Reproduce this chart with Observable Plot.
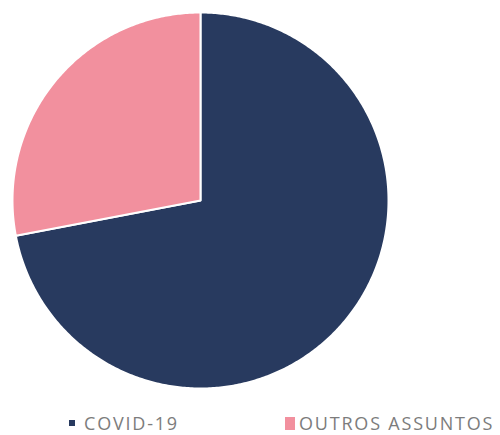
<!DOCTYPE html>
<html>
<head>
<meta charset="utf-8">
<script src="https://cdn.jsdelivr.net/npm/d3@7"></script>
<script src="https://cdn.jsdelivr.net/npm/@observablehq/plot@0.6"></script>
<style>
  html, body { margin: 0; padding: 0; background: #fff; }
  #wrap { position: relative; width: 500px; height: 435px; overflow: hidden; }
  #legend { position: absolute; left: 0; top: 411px; width: 500px; height: 24px;
            font-family: "Open Sans", "Liberation Sans", sans-serif; font-size: 18px;
            letter-spacing: 1.8px; color: #7c7c7c; }
  .item { position: absolute; top: 0; display: flex; align-items: center; height: 24px; white-space: nowrap; }
  .sw { display: inline-block; flex: none; }
</style>
</head>
<body>
<div id="wrap">
  <div id="chart"></div>
  <div id="legend"></div>
</div>
<script>
const categories = ["COVID-19", "OUTROS ASSUNTOS"];
const values = [72, 28];
const colors = ["#283a5f", "#f2909e"];

// Build slice polygons (angles measured clockwise from 12 o'clock)
const total = d3.sum(values);
const pts = [];
let start = 0;
categories.forEach((c, i) => {
  const a0 = start / total * 2 * Math.PI;
  const a1 = (start + values[i]) / total * 2 * Math.PI;
  start += values[i];
  pts.push({cat: c, x: 0, y: 0});
  const n = Math.max(2, Math.ceil((a1 - a0) / 0.01));
  for (let k = 0; k <= n; k++) {
    const a = a0 + (a1 - a0) * k / n;
    pts.push({cat: c, x: Math.sin(a), y: Math.cos(a)});
  }
  pts.push({cat: c, x: 0, y: 0});
});

const plot = Plot.plot({
  width: 500,
  height: 400,
  marginLeft: 12,
  marginRight: 112,
  marginTop: 12,
  marginBottom: 12,
  x: {domain: [-1, 1], axis: null},
  y: {domain: [-1, 1], axis: null},
  color: {domain: categories, range: colors},
  marks: [
    Plot.line(pts, {x: "x", y: "y", z: "cat", fill: "cat", stroke: "white", strokeWidth: 2, curve: "linear"})
  ]
});
document.getElementById("chart").appendChild(plot);

// Legend
const legend = document.getElementById("legend");
const legendPos = [{left: 69, size: [6, 6], gap: 9}, {left: 285, size: [10, 13], gap: 4}];
categories.forEach((c, i) => {
  const item = document.createElement("div");
  item.className = "item";
  item.style.left = legendPos[i].left + "px";
  const sw = document.createElement("span");
  sw.className = "sw";
  sw.style.width = legendPos[i].size[0] + "px";
  sw.style.height = legendPos[i].size[1] + "px";
  sw.style.background = colors[i];
  sw.style.marginRight = legendPos[i].gap + "px";
  item.appendChild(sw);
  const t = document.createElement("span");
  t.textContent = c;
  item.appendChild(t);
  legend.appendChild(item);
});
</script>
</body>
</html>
